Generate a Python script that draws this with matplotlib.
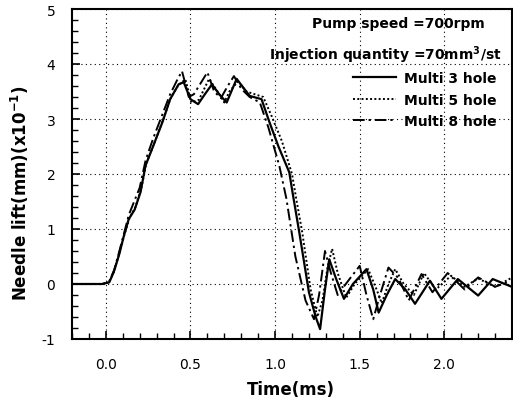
import matplotlib
matplotlib.use("Agg")
import matplotlib.pyplot as plt
from matplotlib.patches import Rectangle

plt.rcParams['font.family'] = ['DejaVu Sans']
plt.rcParams['axes.unicode_minus'] = False

# Multi 3 hole (solid)
t3 = [-0.2, -0.1, -0.02, 0.02, 0.047, 0.08, 0.106, 0.135, 0.17, 0.205, 0.234, 0.28, 0.334, 0.38,
      0.43, 0.46, 0.50, 0.545, 0.585, 0.627, 0.67, 0.714, 0.773, 0.81, 0.85, 0.92, 0.967, 1.02,
      1.084, 1.104, 1.143, 1.2, 1.24, 1.266, 1.295, 1.32, 1.36, 1.407, 1.46, 1.54, 1.58, 1.612,
      1.66, 1.71, 1.77, 1.827, 1.915, 1.983, 2.08, 2.2, 2.286, 2.39]
y3 = [0.0, 0.0, 0.0, 0.03, 0.22, 0.55, 0.87, 1.18, 1.35, 1.67, 2.15, 2.51, 2.94, 3.36,
      3.63, 3.67, 3.36, 3.27, 3.45, 3.63, 3.45, 3.3, 3.73, 3.58, 3.42, 3.36, 2.94, 2.5,
      2.03, 1.65, 0.94, -0.15, -0.6, -0.82, -0.1, 0.45, 0.1, -0.27, 0.0, 0.27, -0.1, -0.52,
      -0.2, 0.09, -0.1, -0.36, 0.06, -0.27, 0.09, -0.21, 0.09, -0.04]

# Multi 5 hole (dotted)
t5 = [-0.2, -0.1, -0.02, 0.02, 0.05, 0.08, 0.11, 0.14, 0.175, 0.21, 0.24, 0.285, 0.34, 0.385,
      0.43, 0.47, 0.505, 0.55, 0.61, 0.66, 0.70, 0.73, 0.78, 0.83, 0.87, 0.93, 0.98, 1.04,
      1.10, 1.125, 1.16, 1.21, 1.25, 1.28, 1.31, 1.337, 1.37, 1.42, 1.47, 1.55, 1.60, 1.63,
      1.67, 1.71, 1.76, 1.82, 1.88, 1.95, 2.04, 2.12, 2.2, 2.3, 2.39]
y5 = [0.0, 0.0, 0.0, 0.04, 0.24, 0.57, 0.9, 1.2, 1.4, 1.75, 2.2, 2.55, 3.0, 3.4,
      3.62, 3.72, 3.3, 3.35, 3.73, 3.5, 3.3, 3.5, 3.68, 3.5, 3.46, 3.4, 3.05, 2.6,
      2.0, 1.55, 0.95, -0.1, -0.6, -0.3, 0.3, 0.64, 0.2, -0.25, 0.0, 0.27, -0.1, -0.35,
      0.0, 0.27, 0.0, -0.2, 0.2, -0.1, 0.15, -0.05, 0.1, -0.05, 0.1]

# Multi 8 hole (dash-dot)
t8 = [-0.2, -0.1, -0.02, 0.02, 0.05, 0.08, 0.11, 0.135, 0.166, 0.2, 0.235, 0.28, 0.33, 0.38,
      0.42, 0.45, 0.49, 0.52, 0.56, 0.60, 0.64, 0.68, 0.72, 0.757, 0.80, 0.85, 0.91, 0.96,
      1.025, 1.067, 1.12, 1.18, 1.23, 1.26, 1.295, 1.33, 1.37, 1.43, 1.5, 1.54, 1.58, 1.62,
      1.67, 1.73, 1.79, 1.865, 1.93, 2.02, 2.12, 2.2, 2.3, 2.39]
y8 = [0.0, 0.0, 0.0, 0.05, 0.26, 0.6, 0.95, 1.25, 1.49, 1.75, 2.25, 2.65, 3.05, 3.45,
      3.7, 3.87, 3.4, 3.45, 3.65, 3.85, 3.5, 3.38, 3.6, 3.78, 3.55, 3.4, 3.3, 2.85,
      2.15, 1.55, 0.5, -0.3, -0.64, -0.2, 0.6, 0.2, -0.2, 0.05, 0.33, -0.2, -0.64, -0.2,
      0.3, 0.1, -0.3, 0.18, -0.15, 0.2, -0.1, 0.12, -0.05, 0.05]

xticks = [0.0, 0.5, 1.0, 1.5, 2.0]
xticklabels = ['0.0', '0.5', '1.0', '1.5', '2.0']
yticks = [-1, 0, 1, 2, 3, 4, 5]
labels = ['Multi 3 hole', 'Multi 5 hole', 'Multi 8 hole']

W, H = 513, 406
fig = plt.figure(figsize=(W/100, H/100), dpi=100)
ax = fig.add_axes([72/W, 1-340/H, (512-72)/W, (340-10)/H])

ax.set_xlim(-0.2, 2.4)
ax.set_ylim(-1, 5)
ax.set_xticks(xticks)
ax.set_xticklabels(xticklabels)
ax.set_yticks(yticks)
ax.set_xticks([i/10 for i in range(-2, 25)], minor=True)
ax.set_yticks([-1 + 0.2*i for i in range(31)], minor=True)
ax.tick_params(which='both', direction='in', top=False, right=False, labelsize=10)
ax.tick_params(axis='x', which='major', pad=13)
ax.tick_params(axis='y', which='major', pad=12)
ax.tick_params(which='major', length=6, width=1.2)
ax.tick_params(which='minor', length=4, width=1.0)
ax.grid(True, which='major', linestyle=(0, (1, 3)), color='black', linewidth=0.8)
for s in ax.spines.values():
    s.set_linewidth(1.5)

ax.plot(t3, y3, color='black', linestyle='-', linewidth=1.6, label=labels[0], zorder=3)
ax.plot(t5, y5, color='black', linestyle=(0, (1, 1.2)), linewidth=1.4, label=labels[1], zorder=3)
ax.plot(t8, y8, color='black', linestyle=(0, (6, 2, 1.2, 2)), linewidth=1.4, label=labels[2], zorder=3)

# white masks hiding the grid behind the annotation block
ax.add_patch(Rectangle((0.985, 3.9), 1.5, 1.2, facecolor='white', edgecolor='none', zorder=1.5))
ax.add_patch(Rectangle((1.395, 2.55), 1.1, 1.5, facecolor='white', edgecolor='none', zorder=1.5))

ax.text((398-72)/440, (340-24)/330, 'Pump speed =700rpm', transform=ax.transAxes,
        ha='center', va='center', fontsize=10, fontweight='bold', zorder=4)
ax.text((502-72)/440, (340-55)/330, 'Injection quantity =70mm$^{\\mathbf{3}}$/st',
        transform=ax.transAxes, ha='right', va='center', fontsize=10, fontweight='bold', zorder=4)

leg = ax.legend(loc='upper left', bbox_to_anchor=((353-72)/440, (340-72)/330), frameon=False,
                prop={'weight': 'bold', 'size': 10}, handlelength=3.1, handletextpad=0.55,
                labelspacing=0.55, borderpad=0.0, borderaxespad=0.0)
leg.set_zorder(5)

fig.text(291/W, 1-390/H, 'Time(ms)', ha='center', va='center', fontsize=12, fontweight='bold')
fig.text(20/W, 1-193/H, 'Needle lift(mm)(x10$^{\\mathbf{-1}}$)', ha='center', va='center',
         rotation=90, fontsize=12, fontweight='bold')

fig.savefig('out.png', dpi=100)
